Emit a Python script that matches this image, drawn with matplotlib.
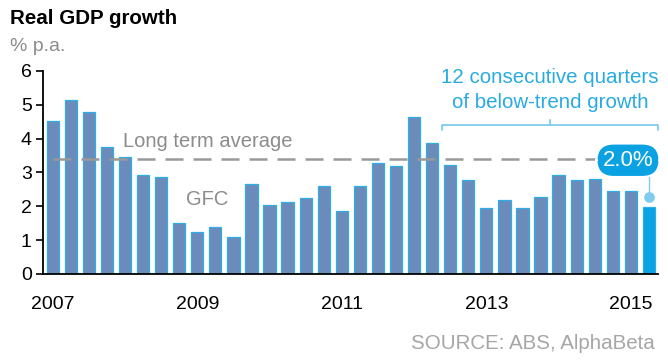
import matplotlib.pyplot as plt

plt.rcParams['font.family'] = ['Liberation Sans', 'DejaVu Sans']

# Quarterly real GDP growth, % p.a., 2007 Q1 .. 2015 Q2
quarters = ['2007Q1', '2007Q2', '2007Q3', '2007Q4', '2008Q1', '2008Q2', '2008Q3', '2008Q4',
            '2009Q1', '2009Q2', '2009Q3', '2009Q4', '2010Q1', '2010Q2', '2010Q3', '2010Q4',
            '2011Q1', '2011Q2', '2011Q3', '2011Q4', '2012Q1', '2012Q2', '2012Q3', '2012Q4',
            '2013Q1', '2013Q2', '2013Q3', '2013Q4', '2014Q1', '2014Q2', '2014Q3', '2014Q4',
            '2015Q1', '2015Q2']
growth = [4.53, 5.14, 4.80, 3.74, 3.46, 2.93, 2.88, 1.51,
          1.24, 1.39, 1.09, 2.66, 2.03, 2.13, 2.25, 2.61,
          1.86, 2.59, 3.28, 3.19, 4.63, 3.86, 3.22, 2.78,
          1.94, 2.18, 1.94, 2.26, 2.93, 2.78, 2.81, 2.46,
          2.46, 1.98]
long_term_avg = 3.4
year_ticks = ['2007', '2009', '2011', '2013', '2015']
below_trend_start = '2012Q3'

bar_col = '#6b8cba'
edge_col = '#2eaee6'
hi_col = '#0aa2e2'
grey = '#8c8c8c'

fig = plt.figure(figsize=(6.68, 3.6), dpi=100)
ax = fig.add_axes([0.064, 0.239, 0.921, 0.564])

x = list(range(len(growth)))
colors = [bar_col] * (len(growth) - 1) + [hi_col]
ax.bar(x, growth, width=0.68, color=colors, edgecolor=edge_col, linewidth=0.9, zorder=2)

# long term average
last = len(growth) - 1
ax.plot([0, last - 2], [long_term_avg, long_term_avg], color='#999999', lw=1.8,
        dashes=(7.2, 4.0), zorder=3)
ax.text(3.9, 3.92, 'Long term average', color=grey, fontsize=14.5, ha='left', va='center')
ax.text(8.55, 2.2, 'GFC', color=grey, fontsize=14.5, ha='center', va='center')

# latest value callout
ax.plot([last, last], [2.28, 3.1], color='#7fcdee', lw=1, zorder=3)
ax.scatter([last], [2.28], s=45, color='#7fcdee', zorder=4)
ax.text(31.84, 3.36, f'{growth[-1]:.1f}%', color='white', fontsize=16, ha='center',
        va='center', zorder=6,
        bbox=dict(boxstyle='round,pad=0.28,rounding_size=0.78', fc=hi_col, ec='white', lw=1.5))

# bracket over below-trend quarters
b0 = quarters.index(below_trend_start) - 0.45
b1 = last + 0.5
bm = (b0 + b1) / 2
by = 4.4
ax.plot([b0, b0, b1, b1], [by - 0.15, by, by, by - 0.15], color='#6cc4ea', lw=1.1,
        clip_on=False)
ax.plot([bm, bm], [by, by + 0.15], color='#6cc4ea', lw=1.1, clip_on=False)
ax.text(bm, 5.44, '12 consecutive quarters\nof below-trend growth', color='#29abe2',
        fontsize=14.8, ha='center', va='center', linespacing=1.42)

ax.set_xlim(-0.55, 33.5)
ax.set_ylim(0, 6)
ax.set_yticks(range(7))
ax.set_xticks([quarters.index(y + 'Q1') for y in year_ticks])
ax.set_xticklabels(year_ticks)
ax.tick_params(axis='y', labelsize=14, length=5, width=1.2, pad=3)
ax.tick_params(axis='x', labelsize=14, length=0, pad=16)
for s in ['top', 'right']:
    ax.spines[s].set_visible(False)
ax.spines['left'].set_linewidth(1.3)
ax.spines['bottom'].set_linewidth(1.3)

fig.text(0.015, 0.948, 'Real GDP growth', fontsize=14.8, fontweight='bold', ha='left', va='center')
fig.text(0.015, 0.872, '% p.a.', fontsize=14, color=grey, ha='left', va='center')
fig.text(0.98, 0.047, 'SOURCE: ABS, AlphaBeta', fontsize=14.8, color='#a6a6a6',
         ha='right', va='center')

fig.savefig('out.png', dpi=100)
